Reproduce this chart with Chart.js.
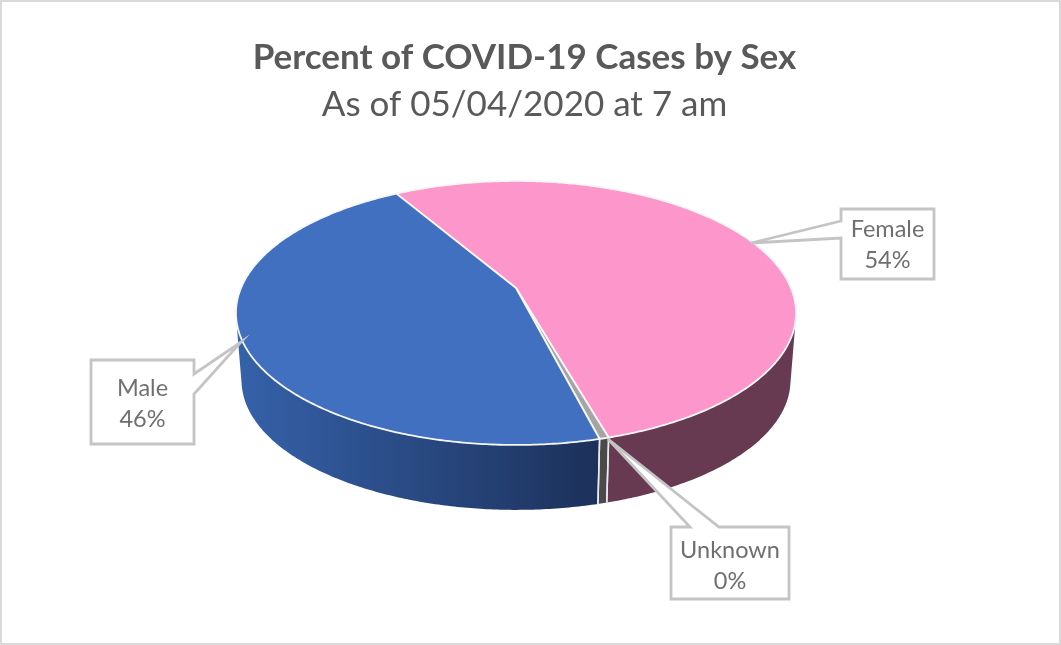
<!DOCTYPE html>
<html>
<head>
<meta charset="utf-8">
<style>
  html, body { margin: 0; padding: 0; background: #fff; }
  canvas { display: block; }
</style>
<script src="https://cdn.jsdelivr.net/npm/chart.js@4/dist/chart.umd.min.js"></script>
</head>
<body>
<canvas id="sexChart" width="1061" height="645"></canvas>
<script>
const categories = ['Female', 'Unknown', 'Male'];
const values = [54, 0.45, 45.55];
const topColors = ['#fd96cb', '#a5a5a5', '#4070bf'];
const sideColorsLeft = ['#673a52', '#4a4a4a', '#3561a9'];
const sideColorsRight = ['#673a52', '#4a4a4a', '#1c3059'];
const titleText = 'Percent of COVID-19 Cases by Sex';
const subtitleText = 'As of 05/04/2020 at 7 am';

// perspective of the disc, fitted to the picture
const persp = 0.189;
const topFace = { x: 516, y: 288, a: 275, b: 127.3 };
const bottomFace = { x: 516, y: 356, a: 269.5, b: 124.8 };

// label callouts: box, the two wedge points on the box edge, and the tip
const callouts = [
    { box: [841, 209, 934, 279], side: 'left', wedge: [221, 238], tip: [751, 243], lines: [229, 260] },
    { box: [671, 527, 789, 599], side: 'top', wedge: [690, 719], tip: [608, 439], lines: [550, 581] },
    { box: [91, 360, 194, 444], side: 'right', wedge: [374, 394], tip: [241, 342], lines: [388, 419] }
];

function project(face, angle) {
    const u = Math.cos(angle), v = Math.sin(angle);
    const w = 1 - persp * v;
    return [face.x + face.a * u / w, face.y + face.b * v / w];
}

function rimAngles(start, end) {
    const steps = Math.max(2, Math.ceil((end - start) / 0.01));
    const out = [];
    for (let i = 0; i <= steps; i++) out.push(start + (end - start) * i / steps);
    return out;
}

function drawSide(ctx, arc, index) {
    const angles = rimAngles(arc.startAngle, arc.endAngle);
    const grad = ctx.createLinearGradient(241, 0, 604, 0);
    grad.addColorStop(0, sideColorsLeft[index]);
    grad.addColorStop(1, sideColorsRight[index]);
    ctx.beginPath();
    for (let i = 0; i < angles.length - 1; i++) {
        let quad = [
            project(topFace, angles[i]), project(topFace, angles[i + 1]),
            project(bottomFace, angles[i + 1]), project(bottomFace, angles[i])
        ];
        let area = 0;
        quad.forEach((p, k) => {
            const q = quad[(k + 1) % 4];
            area += p[0] * q[1] - q[0] * p[1];
        });
        if (area < 0) quad = quad.reverse();
        ctx.moveTo(quad[0][0], quad[0][1]);
        for (let k = 1; k < 4; k++) ctx.lineTo(quad[k][0], quad[k][1]);
        ctx.closePath();
    }
    ctx.fillStyle = grad;
    ctx.fill();
}

function drawSideEdge(ctx, angle) {
    const a = project(topFace, angle), b = project(bottomFace, angle);
    ctx.beginPath();
    ctx.moveTo(a[0], a[1]);
    ctx.lineTo(b[0], b[1]);
    ctx.strokeStyle = '#ececec';
    ctx.lineWidth = 1.5;
    ctx.stroke();
}

function drawTop(ctx, arc, index) {
    ctx.beginPath();
    ctx.moveTo(topFace.x, topFace.y);
    rimAngles(arc.startAngle, arc.endAngle).forEach(t => {
        const p = project(topFace, t);
        ctx.lineTo(p[0], p[1]);
    });
    ctx.closePath();
    ctx.fillStyle = topColors[index];
    ctx.fill();
    ctx.strokeStyle = '#f6f6f6';
    ctx.lineWidth = 1.8;
    ctx.lineJoin = 'round';
    ctx.stroke();
}

function drawCallout(ctx, c, index) {
    const [x0, y0, x1, y1] = c.box;
    ctx.beginPath();
    ctx.moveTo(x0, y0);
    if (c.side === 'top') {
        ctx.lineTo(c.wedge[0], y0);
        ctx.lineTo(c.tip[0], c.tip[1]);
        ctx.lineTo(c.wedge[1], y0);
    }
    ctx.lineTo(x1, y0);
    if (c.side === 'right') {
        ctx.lineTo(x1, c.wedge[0]);
        ctx.lineTo(c.tip[0], c.tip[1]);
        ctx.lineTo(x1, c.wedge[1]);
    }
    ctx.lineTo(x1, y1);
    ctx.lineTo(x0, y1);
    if (c.side === 'left') {
        ctx.lineTo(x0, c.wedge[1]);
        ctx.lineTo(c.tip[0], c.tip[1]);
        ctx.lineTo(x0, c.wedge[0]);
    }
    ctx.closePath();
    ctx.fillStyle = '#fff';
    ctx.fill();
    ctx.strokeStyle = '#c4c4c4';
    ctx.lineWidth = 2.8;
    ctx.lineJoin = 'miter';
    ctx.stroke();

    ctx.fillStyle = '#6f6f6f';
    ctx.font = '23.5px Lato';
    ctx.textAlign = 'center';
    ctx.textBaseline = 'middle';
    const cx = (x0 + x1) / 2;
    ctx.fillText(categories[index], cx, c.lines[0]);
    ctx.fillText(Math.round(values[index]) + '%', cx, c.lines[1]);
}

const pie3d = {
    id: 'pie3d',
    beforeDraw(chart) {
        const ctx = chart.ctx;
        ctx.save();
        ctx.fillStyle = '#fff';
        ctx.fillRect(0, 0, chart.width, chart.height);
        ctx.strokeStyle = '#d9d9d9';
        ctx.lineWidth = 2;
        ctx.strokeRect(1, 1, chart.width - 2, chart.height - 2);
        ctx.restore();
    },
    // the library works out the slice angles, the disc is painted here
    beforeDatasetDraw(chart) {
        const ctx = chart.ctx;
        const arcs = chart.getDatasetMeta(0).data;
        ctx.save();
        arcs.forEach((arc, i) => drawSide(ctx, arc, i));
        arcs.forEach(arc => {
            drawSideEdge(ctx, arc.startAngle);
            drawSideEdge(ctx, arc.endAngle);
        });
        arcs.forEach((arc, i) => drawTop(ctx, arc, i));
        ctx.restore();
        return false;
    },
    afterDatasetsDraw(chart) {
        const ctx = chart.ctx;
        ctx.save();
        callouts.forEach((c, i) => drawCallout(ctx, c, i));
        ctx.restore();
    }
};

new Chart(document.getElementById('sexChart').getContext('2d'), {
    type: 'pie',
    data: {
        labels: categories,
        datasets: [{ data: values, backgroundColor: topColors, borderColor: '#f6f6f6', borderWidth: 1.8 }]
    },
    options: {
        responsive: false,
        animation: false,
        rotation: -30.4,
        layout: { padding: { top: 37, right: 12 } },
        plugins: {
            legend: { display: false },
            tooltip: { enabled: false },
            title: {
                display: true,
                text: titleText,
                color: '#595959',
                font: { family: 'Lato', size: 35, weight: 'bold' },
                padding: { top: 0, bottom: 5 }
            },
            subtitle: {
                display: true,
                text: subtitleText,
                color: '#595959',
                font: { family: 'Lato', size: 35, weight: 'normal' },
                padding: { top: 0, bottom: 0 }
            }
        }
    },
    plugins: [pie3d]
});
</script>
</body>
</html>
